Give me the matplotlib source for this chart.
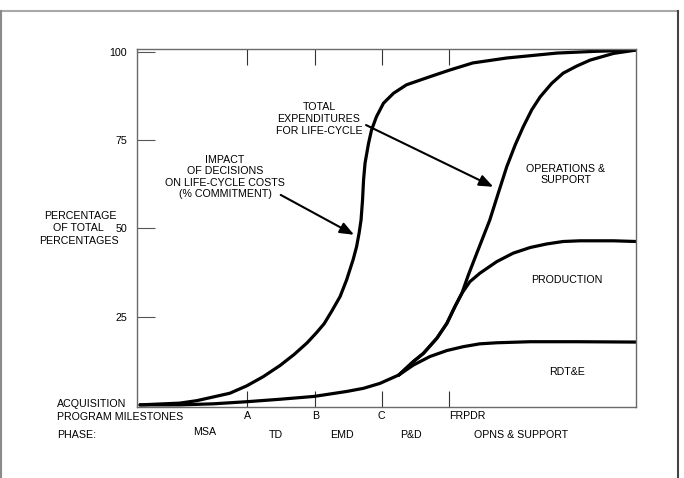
import matplotlib
matplotlib.use("Agg")
import matplotlib.pyplot as plt
from matplotlib.lines import Line2D

plt.rcParams['font.family'] = ['Liberation Sans', 'DejaVu Sans']
FS = 7.7

W, H = 684, 478

# milestones along the acquisition timeline (x in % of life-cycle)
milestones = ["A", "B", "C", "FRPDR"]
milestone_x = [22.1, 35.7, 49.0, 62.5]

phases = ["MSA", "TD", "EMD", "P&D", "OPNS & SUPPORT"]

# impact of decisions on life-cycle costs (% commitment)
commit_x = [0.6, 8.6, 12.0, 18.6, 22.0, 25.3, 28.7, 31.5, 34.1, 36.0, 37.5, 39.0,
            40.7, 42.0, 43.3, 44.0, 44.5, 44.9, 45.2, 45.4, 45.7, 46.4, 47.0, 48.0,
            49.4, 51.4, 54.0, 58.7, 62.7, 67.3, 74.1, 84.2, 92.0, 99.8]
commit_v = [0.0, 0.5, 1.2, 3.3, 5.4, 8.0, 11.2, 14.3, 17.6, 20.5, 23.0, 26.5,
            30.7, 35.4, 41.1, 44.8, 48.6, 52.4, 58.1, 63.7, 68.5, 74.1, 77.9, 81.7,
            85.5, 88.3, 90.7, 93.0, 94.9, 96.9, 98.3, 99.7, 100.2, 100.5]

# total expenditures, shared part before the split
early_x = [0.6, 8.6, 15.3, 22.0, 28.7, 35.5, 42.0, 45.4, 48.7, 52.5]
early_v = [0.0, 0.0, 0.3, 0.9, 1.6, 2.4, 3.8, 4.7, 6.1, 8.5]

# RDT&E
rdte_x = [52.5, 55.4, 58.7, 62.1, 65.4, 68.7, 72.1, 78.8, 88.0, 100.0]
rdte_v = [8.5, 11.3, 13.7, 15.4, 16.5, 17.3, 17.6, 17.9, 17.9, 17.8]

# operations & support (total)
total_x = [52.5, 55.4, 57.4, 60.1, 62.1, 63.7, 65.1, 66.4, 68.1, 69.4, 70.7, 72.4,
           74.1, 75.8, 77.4, 79.1, 80.8, 83.1, 85.4, 88.1, 90.8, 95.5, 99.8]
total_v = [8.5, 12.3, 14.6, 18.9, 23.1, 27.8, 31.6, 36.8, 43.0, 47.7, 52.4, 60.0,
           67.5, 73.7, 78.8, 83.6, 87.3, 91.1, 94.0, 96.0, 97.7, 99.6, 100.5]

# production (cumulative RDT&E + production), same as total up to the split
prod_x = [52.5, 55.4, 57.4, 60.1, 62.1, 63.7, 65.1, 66.7, 68.7, 72.1, 75.4, 78.8,
          82.1, 85.4, 88.8, 95.5, 100.0]
prod_v = [8.5, 12.3, 14.6, 18.9, 23.1, 27.8, 31.6, 34.9, 37.3, 40.6, 43.0, 44.6,
          45.6, 46.3, 46.5, 46.5, 46.3]


def px(x, y):
    return x / W, 1 - y / H


fig = plt.figure(figsize=(W / 100, H / 100), dpi=100)

# outer frame of the page
fig.add_artist(Line2D([0, 678 / W], [1 - 10.5 / H] * 2, color='#a8a8a8', lw=1.5))
fig.add_artist(Line2D([1 / W] * 2, [0, 1 - 10.5 / H], color='#8a8a8a', lw=1.5))
fig.add_artist(Line2D([677.5 / W] * 2, [0, 1 - 10.5 / H], color='#444444', lw=1.5))

ax = fig.add_axes([137 / W, 1 - 407 / H, (636 - 137) / W, (407 - 49) / H])
ax.set_xlim(0, 100)
ax.set_ylim(-0.6, 100.85)

line = dict(color='black', lw=2.3, solid_joinstyle='round', solid_capstyle='round')
ax.plot(commit_x, commit_v, **line)
ax.plot(early_x, early_v, **line)
ax.plot(rdte_x, rdte_v, **line)
ax.plot(prod_x, prod_v, **line)
ax.plot(total_x, total_v, **line)

for s in ax.spines.values():
    s.set_color('#6a6a6a')
    s.set_linewidth(1.0)

ax.set_xticks(milestone_x)
ax.set_xticklabels(milestones, fontsize=FS)
ax.tick_params(axis='x', direction='in', top=True, length=11.5, width=0.8,
               color='#333333', pad=3)
ax.get_xticklabels()[-1].set_ha('left')
ax.get_xticklabels()[-1].set_x(milestone_x[-1] - 1)

ax.set_yticks([25, 50, 75, 100])
ax.set_yticklabels(['25', '50', '75', '100'], fontsize=FS)
ax.tick_params(axis='y', direction='in', length=13, width=0.8, color='#555555', pad=7)

# arrows
arrow = dict(arrowstyle='-|>,head_length=0.7,head_width=0.28', color='black',
             lw=1.5, shrinkA=0, shrinkB=0, mutation_scale=12)
ax.annotate('', xy=(43.5, 48.2), xytext=(28.8, 59.5), arrowprops=arrow)
ax.annotate('', xy=(71.4, 61.8), xytext=(45.9, 79.3), arrowprops=arrow)

# text
fig.text(*px(80, 215.5), "PERCENTAGE", ha='center', va='center', fontsize=FS)
fig.text(*px(78, 227.5), "OF TOTAL", ha='center', va='center', fontsize=FS)
fig.text(*px(79, 241), "PERCENTAGES", ha='center', va='center', fontsize=FS)
fig.text(*px(225, 177), "IMPACT\nOF DECISIONS\nON LIFE-CYCLE COSTS\n(% COMMITMENT)",
         ha='center', va='center', fontsize=FS, linespacing=1.2)
fig.text(*px(319, 119), "TOTAL\nEXPENDITURES\nFOR LIFE-CYCLE", ha='center', va='center',
         fontsize=FS, linespacing=1.25)
fig.text(*px(566, 174.5), "OPERATIONS &\nSUPPORT", ha='center', va='center', fontsize=FS,
         linespacing=1.15)
fig.text(*px(567, 280), "PRODUCTION", ha='center', va='center', fontsize=FS)
fig.text(*px(567, 372), "RDT&E", ha='center', va='center', fontsize=FS)

fig.text(*px(57, 404), "ACQUISITION", ha='left', va='center', fontsize=FS)
fig.text(*px(57, 416.7), "PROGRAM MILESTONES", ha='left', va='center', fontsize=FS)
fig.text(*px(57, 435), "PHASE:", ha='left', va='center', fontsize=FS)

phase_px = [(205, 432), (276, 435), (342, 435), (411, 435), (521, 435)]
for name, (x, y) in zip(phases, phase_px):
    fig.text(*px(x, y), name, ha='center', va='center', fontsize=FS)

fig.savefig("out.png", dpi=100)
